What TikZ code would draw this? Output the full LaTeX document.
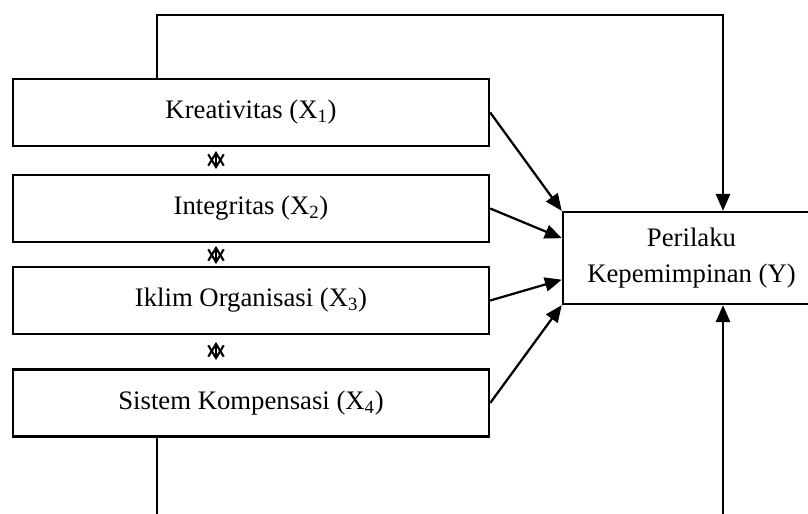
\documentclass[tikz,border=0pt]{standalone}
\usepackage{fontspec}
\setmainfont{Liberation Serif}
\usetikzlibrary{calc,positioning,arrows.meta}

\begin{document}
\begin{tikzpicture}[x=0.025cm, y=-0.025cm]
    \tikzstyle{xnode} = [draw, line width=1.6pt, rectangle, minimum width=11.9cm, minimum height=1.68cm, inner sep=2pt, font=\fontsize{19}{23}\selectfont]
    \tikzstyle{ynode} = [draw, line width=1.6pt, rectangle, minimum width=6.43cm, minimum height=2.3cm, inner sep=2pt, align=center, font=\fontsize{19}{25}\selectfont]
    \tikzstyle{link} = [line width=1.6pt, -{Triangle[length=12pt,width=10pt]}]
    \tikzstyle{corr} = [line width=1.5pt, {Straight Barb[length=9pt,width=11pt]}-{Straight Barb[length=9pt,width=11pt]}]
    \clip (0,0) rectangle (808,513);
    \node[xnode] (kreativitas) at (251,112.5) {Kreativitas (X\textsubscript{1})};
    \node[xnode] (integritas) at (251,208.5) {Integritas (X\textsubscript{2})};
    \node[xnode] (iklim) at (251,300.5) {Iklim Organisasi (X\textsubscript{3})};
    \node[xnode] (kompensasi) at (251,403) {Sistem Kompensasi (X\textsubscript{4})};
    \node[ynode] (perilaku) at (691.5,258) {Perilaku\\Kepemimpinan (Y)};
    % lines that leave the picture at the bottom
    \coordinate (bl) at (157,515);
    \coordinate (br) at (723,515);
    % double arrows between the boxes
    \draw[corr] (216,151) -- (216,169);
    \draw[corr] (216,246) -- (216,264);
    \draw[corr] (216,342) -- (216,360);
    \draw[link] (kreativitas.east) -- (perilaku.north west);
    \draw[link] (integritas.east) -- ($(perilaku.north west)!0.29!(perilaku.south west)$);
    \draw[link] (iklim.east) -- ($(perilaku.north west)!0.73!(perilaku.south west)$);
    \draw[link] (kompensasi.east) -- (perilaku.south west);
    \draw[link] (kreativitas.north -| bl) |- (723,15) -- (perilaku.north -| br);
    \draw[line width=1.6pt] (kompensasi.south -| bl) -- (bl);
    \draw[link] (br) -- (perilaku.south -| br);
\end{tikzpicture}
\end{document}
